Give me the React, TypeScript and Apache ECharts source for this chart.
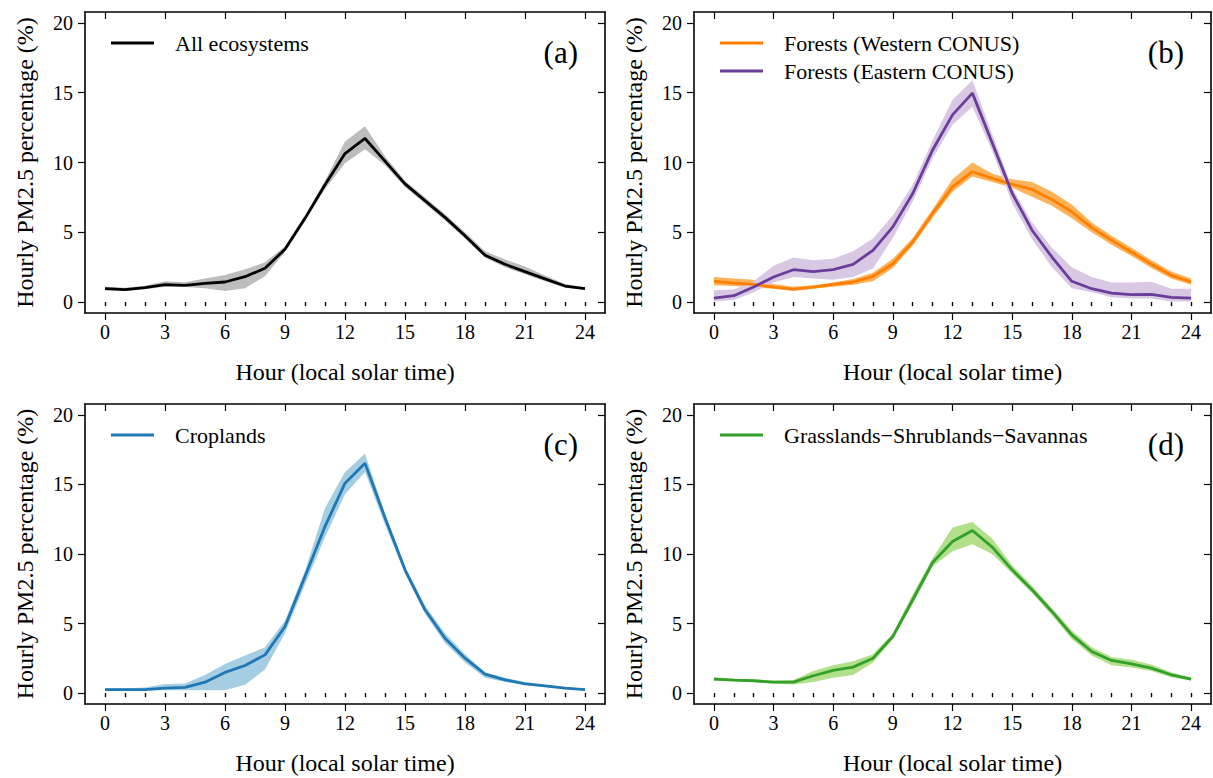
import React, { useEffect, useRef } from "react";
import * as echarts from "echarts";

const hours = [0, 1, 2, 3, 4, 5, 6, 7, 8, 9, 10, 11, 12, 13, 14, 15, 16, 17, 18, 19, 20, 21, 22, 23, 24];
const xMajorTicks = [0, 3, 6, 9, 12, 15, 18, 21, 24];
const yMajorTicks = [0, 5, 10, 15, 20];

// (a) All ecosystems
const allMean = [0.96, 0.89, 1.03, 1.25, 1.2, 1.34, 1.44, 1.82, 2.42, 3.79, 6.0, 8.4, 10.64, 11.72, 10.1, 8.47, 7.27, 6.07, 4.75, 3.36, 2.71, 2.18, 1.66, 1.15, 0.96];
const allLo = [0.85, 0.8, 0.92, 1.1, 1.08, 1.0, 0.8, 1.0, 1.85, 3.6, 5.8, 8.1, 9.95, 10.95, 9.8, 8.25, 7.05, 5.85, 4.55, 3.2, 2.5, 2.0, 1.5, 1.05, 0.88];
const allHi = [1.1, 1.02, 1.18, 1.5, 1.42, 1.7, 1.95, 2.35, 2.85, 4.0, 6.2, 8.7, 11.5, 12.6, 10.45, 8.7, 7.5, 6.3, 5.0, 3.65, 3.05, 2.55, 1.9, 1.3, 1.06];

// (b) Forests
const westMean = [1.49, 1.37, 1.27, 1.08, 0.93, 1.08, 1.27, 1.44, 1.84, 2.75, 4.31, 6.35, 8.26, 9.34, 8.86, 8.43, 8.07, 7.35, 6.47, 5.34, 4.43, 3.59, 2.71, 1.92, 1.44];
const westLo = [1.2, 1.15, 1.05, 0.95, 0.8, 0.95, 1.1, 1.25, 1.5, 2.45, 4.05, 6.05, 7.9, 9.0, 8.6, 8.2, 7.55, 6.9, 6.0, 5.0, 4.1, 3.3, 2.45, 1.7, 1.25];
const westHi = [1.8, 1.7, 1.6, 1.3, 1.1, 1.2, 1.4, 1.65, 2.1, 3.1, 4.6, 6.65, 8.8, 10.0, 9.2, 8.8, 8.6, 7.9, 7.0, 5.7, 4.75, 3.9, 3.0, 2.2, 1.7];
const eastMean = [0.29, 0.46, 1.08, 1.8, 2.32, 2.18, 2.32, 2.71, 3.71, 5.39, 7.78, 10.9, 13.41, 14.97, 11.4, 7.8, 5.15, 3.23, 1.49, 0.96, 0.65, 0.53, 0.55, 0.34, 0.29];
const eastLo = [0.05, 0.15, 0.7, 1.4, 1.8, 1.7, 1.6, 1.8, 2.4, 4.6, 7.2, 10.3, 12.7, 14.0, 10.8, 7.1, 4.5, 2.5, 1.0, 0.7, 0.35, 0.25, 0.25, 0.05, 0.05];
const eastHi = [0.85, 0.9, 1.5, 2.6, 3.2, 3.0, 3.1, 3.65, 4.55, 6.2, 8.4, 11.6, 14.5, 15.9, 12.0, 8.2, 5.7, 3.9, 2.5, 1.8, 1.4, 1.4, 1.45, 0.95, 0.95];

// (c) Croplands
const cropMean = [0.26, 0.26, 0.26, 0.36, 0.41, 0.79, 1.49, 1.99, 2.75, 4.79, 8.38, 11.98, 15.09, 16.53, 12.6, 8.86, 5.99, 3.95, 2.51, 1.37, 0.96, 0.67, 0.53, 0.36, 0.26];
const cropLo = [0.2, 0.2, 0.2, 0.2, 0.2, 0.2, 0.2, 0.6, 1.7, 4.3, 7.8, 11.2, 14.3, 15.9, 12.1, 8.6, 5.7, 3.6, 2.2, 1.1, 0.8, 0.6, 0.45, 0.3, 0.2];
const cropHi = [0.35, 0.35, 0.4, 0.65, 0.7, 1.3, 2.1, 2.7, 3.3, 5.2, 8.8, 13.3, 15.9, 17.2, 12.9, 9.1, 6.3, 4.3, 2.8, 1.5, 1.1, 0.8, 0.6, 0.45, 0.32];

// (d) Grasslands-Shrublands-Savannas
const grassMean = [1.01, 0.93, 0.89, 0.79, 0.79, 1.25, 1.63, 1.87, 2.51, 4.07, 6.71, 9.39, 10.9, 11.69, 10.49, 8.86, 7.43, 5.87, 4.19, 2.99, 2.35, 2.11, 1.8, 1.32, 1.01];
const grassLo = [0.9, 0.85, 0.8, 0.68, 0.62, 0.8, 1.1, 1.3, 2.2, 3.9, 6.4, 9.1, 10.2, 10.7, 10.0, 8.6, 7.2, 5.6, 3.9, 2.7, 2.0, 1.85, 1.6, 1.15, 0.9];
const grassHi = [1.15, 1.05, 0.98, 0.9, 0.95, 1.6, 2.0, 2.3, 2.8, 4.3, 7.1, 9.7, 11.9, 12.3, 11.1, 9.2, 7.7, 6.1, 4.5, 3.3, 2.6, 2.4, 2.05, 1.5, 1.12];

const FONT = "Liberation Serif";
const X_MIN = -1;
const X_MAX = 25;
const Y_MIN = -0.78;
const Y_MAX = 20.78;

type S = { name: string; mean: number[]; lo: number[]; hi: number[]; line: string; band: string };
type P = { rect: { left: number; top: number; width: number; height: number }; letter: string; series: S[] };

const panels: P[] = [
  {
    rect: { left: 85, top: 12, width: 520, height: 301 },
    letter: "(a)",
    series: [{ name: "All ecosystems", mean: allMean, lo: allLo, hi: allHi, line: "#000000", band: "#bdbdbd" }],
  },
  {
    rect: { left: 694, top: 12, width: 517, height: 301 },
    letter: "(b)",
    series: [
      { name: "Forests (Western CONUS)", mean: westMean, lo: westLo, hi: westHi, line: "#ff7f00", band: "#fbb35a" },
      { name: "Forests (Eastern CONUS)", mean: eastMean, lo: eastLo, hi: eastHi, line: "#6a3d9a", band: "#d8c8e4" },
    ],
  },
  {
    rect: { left: 85, top: 404, width: 520, height: 300 },
    letter: "(c)",
    series: [{ name: "Croplands", mean: cropMean, lo: cropLo, hi: cropHi, line: "#1f78b4", band: "#a6cee3" }],
  },
  {
    rect: { left: 694, top: 404, width: 517, height: 300 },
    letter: "(d)",
    series: [{ name: "Grasslands\u2212Shrublands\u2212Savannas", mean: grassMean, lo: grassLo, hi: grassHi, line: "#33a02c", band: "#b2df8a" }],
  },
];

function buildOption() {
  const grid: any[] = [];
  const xAxis: any[] = [];
  const yAxis: any[] = [];
  const series: any[] = [];
  const graphic: any[] = [];
  const axisLine = { show: true, onZero: false, lineStyle: { color: "#000", width: 1.6 } };
  const tickStyle = { color: "#000", width: 1.2 };

  panels.forEach((p, pi) => {
    grid.push({ ...p.rect, containLabel: false });
    const base = { type: "value", gridIndex: pi, min: X_MIN, max: X_MAX, splitLine: { show: false } };
    xAxis.push({
      ...base,
      position: "bottom",
      axisLine,
      axisTick: { show: true, inside: false, length: 7, customValues: xMajorTicks, lineStyle: tickStyle },
      axisLabel: { show: true, customValues: xMajorTicks, margin: 9, fontFamily: FONT, fontSize: 20, color: "#000" },
      name: "Hour (local solar time)",
      nameLocation: "middle",
      nameGap: 47,
      nameTextStyle: { fontFamily: FONT, fontSize: 24, color: "#000" },
    });
    xAxis.push({
      ...base,
      position: "bottom",
      axisLine: { show: false },
      axisTick: { show: true, inside: false, length: 4, customValues: hours, lineStyle: tickStyle },
      axisLabel: { show: false },
    });
    xAxis.push({
      ...base,
      position: "top",
      axisLine,
      axisTick: { show: true, inside: true, length: 7, customValues: xMajorTicks, lineStyle: tickStyle },
      axisLabel: { show: false },
    });
    xAxis.push({
      ...base,
      position: "top",
      axisLine: { show: false },
      axisTick: { show: true, inside: true, length: 4, customValues: hours, lineStyle: tickStyle },
      axisLabel: { show: false },
    });
    const ybase = { type: "value", gridIndex: pi, min: Y_MIN, max: Y_MAX, splitLine: { show: false } };
    yAxis.push({
      ...ybase,
      position: "left",
      axisLine,
      axisTick: { show: true, inside: false, length: 7, customValues: yMajorTicks, lineStyle: tickStyle },
      axisLabel: { show: true, customValues: yMajorTicks, margin: 12, fontFamily: FONT, fontSize: 20, color: "#000" },
      name: "Hourly PM2.5 percentage (%)",
      nameLocation: "middle",
      nameGap: 48,
      nameTextStyle: { fontFamily: FONT, fontSize: 24, color: "#000" },
    });
    yAxis.push({
      ...ybase,
      position: "right",
      axisLine,
      axisTick: { show: true, inside: true, length: 7, customValues: yMajorTicks, lineStyle: tickStyle },
      axisLabel: { show: false },
    });

    p.series.forEach((s) => {
      series.push({
        type: "custom",
        name: s.name + " band",
        xAxisIndex: pi * 4,
        yAxisIndex: pi * 2,
        silent: true,
        z: 1,
        data: hours.map((h, i) => [h, s.lo[i], s.hi[i]]),
        encode: { x: 0, y: [1, 2] },
        renderItem: (params: any, api: any) => {
          if (params.dataIndex !== 0) return null;
          const pts: number[][] = [];
          for (let i = 0; i < hours.length; i++) pts.push(api.coord([hours[i], s.hi[i]]));
          for (let i = hours.length - 1; i >= 0; i--) pts.push(api.coord([hours[i], s.lo[i]]));
          return { type: "polygon", shape: { points: pts }, style: { fill: s.band, stroke: "none" } };
        },
      });
    });
    p.series.forEach((s) => {
      series.push({
        type: "line",
        name: s.name,
        xAxisIndex: pi * 4,
        yAxisIndex: pi * 2,
        z: 3,
        symbol: "none",
        showSymbol: false,
        data: hours.map((h, i) => [h, s.mean[i]]),
        lineStyle: { color: s.line, width: 2.8 },
        itemStyle: { color: s.line },
      });
    });

    // legend (drawn)
    p.series.forEach((s, si) => {
      const y = p.rect.top + 31 + si * 28;
      graphic.push({
        type: "line",
        shape: { x1: p.rect.left + 26, y1: y, x2: p.rect.left + 69, y2: y },
        style: { stroke: s.line, lineWidth: 3 },
        z: 10,
      });
      graphic.push({
        type: "text",
        x: p.rect.left + 90,
        y: y,
        style: { text: s.name, fontFamily: FONT, fontSize: 22, fill: "#000", verticalAlign: "middle", textAlign: "left" },
        z: 10,
      });
    });
    graphic.push({
      type: "text",
      x: p.rect.left + p.rect.width - 27,
      y: p.rect.top + 40,
      style: { text: p.letter, fontFamily: FONT, fontSize: 31, fill: "#000", verticalAlign: "middle", textAlign: "right" },
      z: 10,
    });
  });

  return {
    animation: false,
    backgroundColor: "#ffffff",
    textStyle: { fontFamily: FONT },
    grid,
    xAxis,
    yAxis,
    series,
    graphic,
  };
}

export default function App() {
  const ref = useRef<HTMLDivElement>(null);
  useEffect(() => {
    if (!ref.current) return;
    const chart = echarts.init(ref.current, undefined, { renderer: "svg" });
    chart.setOption(buildOption() as any);
    return () => chart.dispose();
  }, []);
  return (
    <div
      ref={ref}
      style={{ position: "absolute", left: 0, top: 0, width: 1213, height: 778, background: "#fff" }}
    />
  );
}
